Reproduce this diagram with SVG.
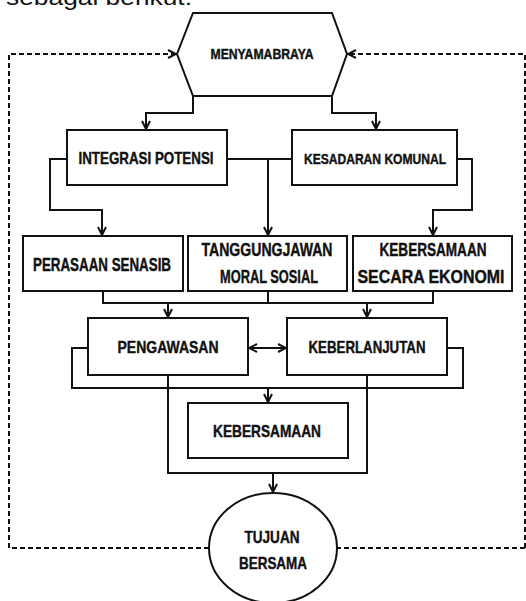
<svg xmlns="http://www.w3.org/2000/svg" width="526" height="601" viewBox="0 0 526 601">
<defs>
<style>
.n{fill:#fff;stroke:#111;stroke-width:2}
.t{font-family:"Liberation Sans",Arial,sans-serif;font-weight:bold;fill:#111;stroke:#111;stroke-width:0.4;text-anchor:middle;dominant-baseline:central}
.c{fill:none;stroke:#111;stroke-width:2}
.d{fill:none;stroke:#111;stroke-width:2;stroke-dasharray:5 3}
</style>
<marker id="ah" viewBox="0 0 10 10" refX="9" refY="5" markerWidth="10" markerHeight="10" markerUnits="userSpaceOnUse" orient="auto">
<path d="M1,1 L9,5 L1,9" fill="none" stroke="#111" stroke-width="2"/>
</marker>
<marker id="as" viewBox="0 0 10 10" refX="1" refY="5" markerWidth="10" markerHeight="10" markerUnits="userSpaceOnUse" orient="auto">
<path d="M9,1 L1,5 L9,9" fill="none" stroke="#111" stroke-width="2"/>
</marker>
</defs>
<rect width="526" height="601" fill="#fff"/>
<text x="6" y="5" font-family="Liberation Sans,Arial,sans-serif" font-size="22" fill="#111" textLength="186" lengthAdjust="spacingAndGlyphs">sebagai berikut:</text>

<g id="connectors">
<path class="d" d="M525,548 L337,548"/>
<path class="d" d="M209,548 L9,548 L9,54 L176,54" marker-end="url(#ah)"/>
<path class="d" d="M525,548 L525,54 L348,54" marker-end="url(#ah)"/>
<path class="c" d="M193,96 L193,113 L146,113 L146,129" marker-end="url(#ah)"/>
<path class="c" d="M332,96 L332,113 L376,113 L376,129" marker-end="url(#ah)"/>
<path class="c" d="M67,159 L50,159 L50,210 L102,210 L102,235" marker-end="url(#ah)"/>
<path class="c" d="M227,159 L292,159"/>
<path class="c" d="M268,159 L268,235" marker-end="url(#ah)"/>
<path class="c" d="M457,159 L472,159 L472,210 L433,210 L433,235" marker-end="url(#ah)"/>
<path class="c" d="M103,291 L103,303 L433,303 L433,291"/>
<path class="c" d="M268,291 L268,303"/>
<path class="c" d="M168,303 L168,317" marker-end="url(#ah)"/>
<path class="c" d="M367,303 L367,317" marker-end="url(#ah)"/>
<path class="c" d="M249,348 L286,348" marker-start="url(#as)" marker-end="url(#ah)"/>
<path class="c" d="M88,348 L72,348 L72,388 L463,388 L463,348 L447,348"/>
<path class="c" d="M268,388 L268,402" marker-end="url(#ah)"/>
<path class="c" d="M168,375 L168,473 L367,473 L367,375"/>
<path class="c" d="M273,473 L273,492" marker-end="url(#ah)"/>
</g>

<g id="menyamabraya">
<polygon class="n" points="193,13 332,13 347,54 332,96 193,96 177,54"/>
<text class="t" x="262" y="54" font-size="14.5" textLength="103" lengthAdjust="spacingAndGlyphs">MENYAMABRAYA</text>
</g>
<g id="integrasi">
<rect class="n" x="67" y="130" width="160" height="55"/>
<text class="t" x="146" y="158" font-size="17" textLength="135" lengthAdjust="spacingAndGlyphs">INTEGRASI POTENSI</text>
</g>
<g id="kesadaran">
<rect class="n" x="292" y="130" width="165" height="55"/>
<text class="t" x="375" y="158" font-size="15" textLength="142" lengthAdjust="spacingAndGlyphs">KESADARAN KOMUNAL</text>
</g>
<g id="perasaan">
<rect class="n" x="23" y="236" width="160" height="55"/>
<text class="t" x="102" y="265" font-size="18" textLength="138" lengthAdjust="spacingAndGlyphs">PERASAAN SENASIB</text>
</g>
<g id="tanggungjawab">
<rect class="n" x="188" y="236" width="159" height="55"/>
<text class="t" x="267" y="250" font-size="18" textLength="131" lengthAdjust="spacingAndGlyphs">TANGGUNGJAWAN</text>
<text class="t" x="269" y="277" font-size="18" textLength="98" lengthAdjust="spacingAndGlyphs">MORAL SOSIAL</text>
</g>
<g id="ekonomi">
<rect class="n" x="353" y="236" width="159" height="55"/>
<text class="t" x="433" y="250" font-size="18" textLength="107" lengthAdjust="spacingAndGlyphs">KEBERSAMAAN</text>
<text class="t" x="431" y="277" font-size="18" textLength="147" lengthAdjust="spacingAndGlyphs">SECARA EKONOMI</text>
</g>
<g id="pengawasan">
<rect class="n" x="88" y="318" width="160" height="57"/>
<text class="t" x="168" y="347" font-size="17" textLength="101" lengthAdjust="spacingAndGlyphs">PENGAWASAN</text>
</g>
<g id="keberlanjutan">
<rect class="n" x="287" y="318" width="160" height="57"/>
<text class="t" x="367" y="347" font-size="17" textLength="117" lengthAdjust="spacingAndGlyphs">KEBERLANJUTAN</text>
</g>
<g id="kebersamaan">
<rect class="n" x="188" y="403" width="160" height="55"/>
<text class="t" x="267" y="431" font-size="17" textLength="108" lengthAdjust="spacingAndGlyphs">KEBERSAMAAN</text>
</g>
<g id="tujuan">
<ellipse class="n" cx="273" cy="548" rx="64" ry="55"/>
<text class="t" x="272" y="537" font-size="17" textLength="55" lengthAdjust="spacingAndGlyphs">TUJUAN</text>
<text class="t" x="273" y="563" font-size="17" textLength="68" lengthAdjust="spacingAndGlyphs">BERSAMA</text>
</g>
</svg>
